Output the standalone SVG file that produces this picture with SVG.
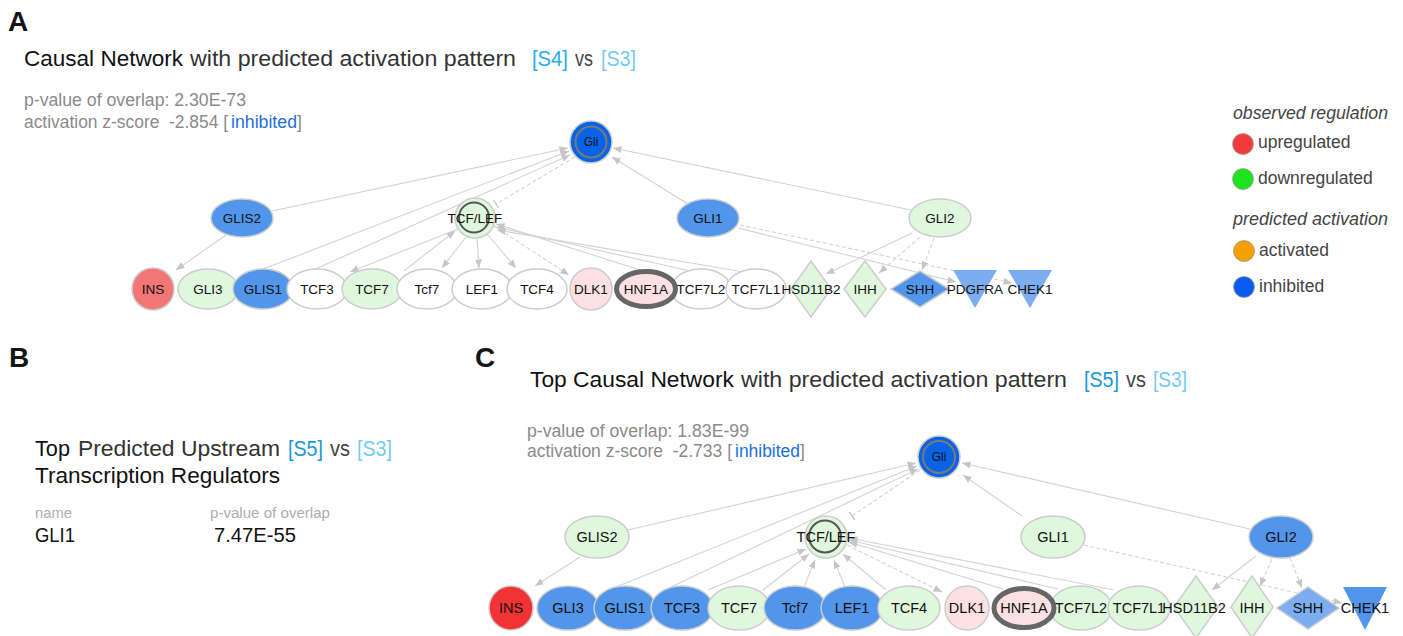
<svg xmlns="http://www.w3.org/2000/svg" width="1403" height="636" viewBox="0 0 1403 636">
  <defs>
    <style>
      text { font-family: "Liberation Sans", Arial, sans-serif; }
      .panel { font-size: 28px; font-weight: bold; fill: #151515; }
      .ttl { font-size: 22px; }
      .blk { fill: #111111; }
      .dim { fill: #333333; }
      .vs { fill: #444444; }
      .s4 { fill: #2aaee6; }
      .s5 { fill: #1a97d4; }
      .s3 { fill: #74cbf2; }
      .stat { font-size: 17.5px; fill: #8a8a8a; }
      .inh { fill: #1a6fe0; }
      .leg { font-size: 17.5px; fill: #444444; }
      .legh { font-size: 17.5px; fill: #444444; font-style: italic; }
      .hdr { font-size: 14px; fill: #adadad; }
      .val { font-size: 20px; fill: #111111; }
      .edge { fill: none; stroke: #d3d3d3; stroke-width: 1.1; }
      .dash { stroke-dasharray: 4 2.5; }
      .arr { marker-end: url(#arrow); }
      .bar { marker-end: url(#tbar); }
      .n { stroke: #cdcdcd; stroke-width: 1.5; }
      .green { fill: #dff8dd; }
      .white { fill: #ffffff; }
      .blue { fill: #5196eb; }
      .lblue { fill: #7cadf1; }
      .pink { fill: #fde0e2; }
      .salmon { fill: #f47575; }
      .red { fill: #f23333; }
      .dark { fill: #0863e6; }
      .sel { stroke: #666666; stroke-width: 5; }
      .ring { fill: none; stroke: #7a7a7a; stroke-width: 2; }
      .ring2 { fill: none; stroke: #555555; stroke-width: 2; }
      .lblA { font-size: 13.5px; fill: #111111; text-anchor: middle; }
      .lblC { font-size: 14.5px; fill: #111111; text-anchor: middle; }
      .gli { font-size: 12px; fill: #111111; text-anchor: middle; }
    </style>
    <marker id="arrow" markerUnits="userSpaceOnUse" markerWidth="9" markerHeight="8" refX="8.5" refY="4" orient="auto">
      <path d="M0,0.5 L8.5,4 L0,7.5 z" fill="#c6c6c6"/>
    </marker>
    <marker id="tbar" markerUnits="userSpaceOnUse" markerWidth="3" markerHeight="10" refX="1.5" refY="5" orient="auto">
      <path d="M1.5,0 L1.5,10" stroke="#c0c0c0" stroke-width="1.2"/>
    </marker>
  </defs>
  <rect width="1403" height="636" fill="#ffffff"/>

  <!-- ============ Panel A ============ -->
  <g id="panel-a-header">
    <text class="panel" x="8" y="31">A</text>
    <text class="ttl" y="66">
      <tspan class="blk" x="24" textLength="159" lengthAdjust="spacingAndGlyphs">Causal Network</tspan>
      <tspan class="dim" x="190" textLength="326" lengthAdjust="spacingAndGlyphs">with predicted activation pattern</tspan>
      <tspan class="s4" x="532" textLength="36" lengthAdjust="spacingAndGlyphs">[S4]</tspan>
      <tspan class="vs" x="575" textLength="18" lengthAdjust="spacingAndGlyphs">vs</tspan>
      <tspan class="s3" x="601" textLength="35" lengthAdjust="spacingAndGlyphs">[S3]</tspan>
    </text>
    <text class="stat" x="24" y="106" textLength="222" lengthAdjust="spacingAndGlyphs">p-value of overlap: 2.30E-73</text>
    <text class="stat" y="128">
      <tspan x="24" textLength="204" lengthAdjust="spacingAndGlyphs">activation z-score &#160;-2.854 [</tspan>
      <tspan class="inh" x="231" textLength="66" lengthAdjust="spacingAndGlyphs">inhibited</tspan>
      <tspan x="297">]</tspan>
    </text>
  </g>

  <g id="legend">
    <text class="legh" x="1233" y="119" textLength="155" lengthAdjust="spacingAndGlyphs">observed regulation</text>
    <circle cx="1243" cy="144" r="10.5" fill="#f33b3b" stroke="#9a9a9a" stroke-width="0.8"/>
    <text class="leg" x="1258" y="148">upregulated</text>
    <circle cx="1243" cy="179" r="10.5" fill="#1fe31f" stroke="#9a9a9a" stroke-width="0.8"/>
    <text class="leg" x="1258" y="184">downregulated</text>
    <text class="legh" x="1233" y="225" textLength="155" lengthAdjust="spacingAndGlyphs">predicted activation</text>
    <circle cx="1244" cy="251" r="10.5" fill="#f5a000" stroke="#9a9a9a" stroke-width="0.8"/>
    <text class="leg" x="1259" y="256">activated</text>
    <circle cx="1244" cy="287" r="10.5" fill="#0a5cf0" stroke="#9a9a9a" stroke-width="0.8"/>
    <text class="leg" x="1259" y="292">inhibited</text>
  </g>

  <g id="edges-a">
    <path class="edge arr" d="M272,211 L568,148"/>
    <path class="edge arr" d="M258,271 L569,151"/>
    <path class="edge arr" d="M311,271 L570,155"/>
    <path class="edge arr" d="M688,204 L612,157"/>
    <path class="edge arr" d="M911,210 L613,148"/>
    <path class="edge dash bar" d="M575,157 L496,204"/>
    <path class="edge arr" d="M226,235 L176,270"/>
    <path class="edge arr" d="M458,229 L350,272"/>
    <path class="edge arr" d="M404,271 L455,231"/>
    <path class="edge arr" d="M466,237 L442,268"/>
    <path class="edge arr" d="M477,238 L479,268"/>
    <path class="edge arr" d="M487,234 L516,268"/>
    <path class="edge dash arr" d="M494,226 L569,275"/>
    <path class="edge arr" d="M640,270 L496,224"/>
    <path class="edge arr" d="M690,271 L496,227"/>
    <path class="edge arr" d="M744,272 L497,230"/>
    <path class="edge arr" d="M912,233 L826,274"/>
    <path class="edge dash arr" d="M920,237 L879,273"/>
    <path class="edge dash arr" d="M934,238 L922,270"/>
    <path class="edge arr" d="M738,228 L956,282"/>
    <path class="edge dash arr" d="M740,225 L1012,283"/>
  </g>

  <g id="a-Gli"><circle class="n dark" cx="591" cy="142" r="21"/><circle class="ring" cx="591" cy="142" r="15.5"/><text class="gli" x="591" y="146">Gli</text></g>
  <g id="a-GLIS2"><ellipse class="n blue" cx="242" cy="218" rx="31" ry="19"/><text class="lblA" x="242" y="223">GLIS2</text></g>
  <g id="a-TCFLEF"><circle class="n green" cx="475" cy="218" r="20"/><circle class="ring2" cx="474" cy="217.5" r="15"/><text class="lblA" x="475" y="223">TCF/LEF</text></g>
  <g id="a-GLI1"><ellipse class="n blue" cx="708" cy="218" rx="31" ry="19"/><text class="lblA" x="708" y="223">GLI1</text></g>
  <g id="a-GLI2"><ellipse class="n green" cx="940" cy="218" rx="31" ry="19"/><text class="lblA" x="940" y="223">GLI2</text></g>

  <g id="a-INS"><circle class="n salmon" cx="153" cy="289" r="21"/><text class="lblA" x="153" y="294">INS</text></g>
  <g id="a-GLI3"><ellipse class="n green" cx="208" cy="289" rx="30" ry="20"/><text class="lblA" x="208" y="294">GLI3</text></g>
  <g id="a-GLIS1"><ellipse class="n blue" cx="263" cy="289" rx="30" ry="20"/><text class="lblA" x="263" y="294">GLIS1</text></g>
  <g id="a-TCF3"><ellipse class="n white" cx="317" cy="289" rx="30" ry="20"/><text class="lblA" x="317" y="294">TCF3</text></g>
  <g id="a-TCF7"><ellipse class="n green" cx="372" cy="289" rx="30" ry="20"/><text class="lblA" x="372" y="294">TCF7</text></g>
  <g id="a-Tcf7"><ellipse class="n white" cx="427" cy="289" rx="30" ry="20"/><text class="lblA" x="427" y="294">Tcf7</text></g>
  <g id="a-LEF1"><ellipse class="n white" cx="482" cy="289" rx="30" ry="20"/><text class="lblA" x="482" y="294">LEF1</text></g>
  <g id="a-TCF4"><ellipse class="n white" cx="537" cy="289" rx="30" ry="20"/><text class="lblA" x="537" y="294">TCF4</text></g>
  <g id="a-DLK1"><circle class="n pink" cx="591" cy="289" r="21"/><text class="lblA" x="591" y="294">DLK1</text></g>
  <g id="a-TCF7L2"><ellipse class="n white" cx="701" cy="289" rx="30" ry="20"/><text class="lblA" x="701" y="294">TCF7L2</text></g>
  <g id="a-TCF7L1"><ellipse class="n white" cx="756" cy="289" rx="30" ry="20"/><text class="lblA" x="756" y="294">TCF7L1</text></g>
  <g id="a-HNF1A"><ellipse class="pink sel" cx="646" cy="289" rx="29.5" ry="17.5"/><text class="lblA" x="646" y="294">HNF1A</text></g>
  <g id="a-HSD11B2"><path class="n green" d="M811,261 L831,289 L811,317 L791,289 z"/><text class="lblA" x="811" y="294">HSD11B2</text></g>
  <g id="a-IHH"><path class="n green" d="M865,261 L886,289 L865,317 L844,289 z"/><text class="lblA" x="865" y="294">IHH</text></g>
  <g id="a-SHH"><path class="n blue" d="M920,271 L949,289 L920,307 L891,289 z"/><text class="lblA" x="920" y="294">SHH</text></g>
  <g id="a-PDGFRA"><path class="lblue" d="M953,270 L997,270 L975,308 z"/><text class="lblA" x="975" y="294">PDGFRA</text></g>
  <g id="a-CHEK1"><path class="lblue" d="M1008,270 L1052,270 L1030,308 z"/><text class="lblA" x="1030" y="294">CHEK1</text></g>

  <!-- ============ Panel B ============ -->
  <g id="panel-b">
    <text class="panel" x="9" y="367">B</text>
    <text class="ttl" y="456">
      <tspan class="blk" x="35" textLength="35" lengthAdjust="spacingAndGlyphs">Top</tspan>
      <tspan class="dim" x="78" textLength="202" lengthAdjust="spacingAndGlyphs">Predicted Upstream</tspan>
      <tspan class="s5" x="288" textLength="35" lengthAdjust="spacingAndGlyphs">[S5]</tspan>
      <tspan class="vs" x="330" textLength="20" lengthAdjust="spacingAndGlyphs">vs</tspan>
      <tspan class="s3" x="357" textLength="35" lengthAdjust="spacingAndGlyphs">[S3]</tspan>
    </text>
    <text class="ttl blk" x="35" y="483" textLength="245" lengthAdjust="spacingAndGlyphs">Transcription Regulators</text>
    <text class="hdr" x="35" y="518" textLength="37" lengthAdjust="spacingAndGlyphs">name</text>
    <text class="hdr" x="210" y="518" textLength="120" lengthAdjust="spacingAndGlyphs">p-value of overlap</text>
    <text class="val" x="35" y="542" textLength="40" lengthAdjust="spacingAndGlyphs">GLI1</text>
    <text class="val" x="214" y="542" textLength="82" lengthAdjust="spacingAndGlyphs">7.47E-55</text>
  </g>

  <!-- ============ Panel C ============ -->
  <g id="panel-c-header">
    <text class="panel" x="475" y="367">C</text>
    <text class="ttl" y="387">
      <tspan class="blk" x="530" textLength="204" lengthAdjust="spacingAndGlyphs">Top Causal Network</tspan>
      <tspan class="dim" x="741" textLength="326" lengthAdjust="spacingAndGlyphs">with predicted activation pattern</tspan>
      <tspan class="s5" x="1084" textLength="35" lengthAdjust="spacingAndGlyphs">[S5]</tspan>
      <tspan class="vs" x="1126" textLength="20" lengthAdjust="spacingAndGlyphs">vs</tspan>
      <tspan class="s3" x="1153" textLength="34" lengthAdjust="spacingAndGlyphs">[S3]</tspan>
    </text>
    <text class="stat" x="527" y="437" textLength="222" lengthAdjust="spacingAndGlyphs">p-value of overlap: 1.83E-99</text>
    <text class="stat" y="457">
      <tspan x="527" textLength="205" lengthAdjust="spacingAndGlyphs">activation z-score &#160;-2.733 [</tspan>
      <tspan class="inh" x="735" textLength="65" lengthAdjust="spacingAndGlyphs">inhibited</tspan>
      <tspan x="800">]</tspan>
    </text>
  </g>

  <g id="edges-c">
    <path class="edge arr" d="M628,530 L916,463"/>
    <path class="edge arr" d="M611,589 L917,466"/>
    <path class="edge arr" d="M667,589 L918,469"/>
    <path class="edge arr" d="M1022,516 L963,475"/>
    <path class="edge arr" d="M1250,529 L962,463"/>
    <path class="edge dash bar" d="M920,470 L852,516"/>
    <path class="edge arr" d="M580,557 L535,586"/>
    <path class="edge arr" d="M708,590 L806,549"/>
    <path class="edge arr" d="M763,590 L809,554"/>
    <path class="edge arr" d="M804,587 L815,560"/>
    <path class="edge arr" d="M845,587 L834,560"/>
    <path class="edge arr" d="M886,590 L843,554"/>
    <path class="edge dash arr" d="M847,545 L942,592"/>
    <path class="edge arr" d="M1003,589 L849,542"/>
    <path class="edge arr" d="M1058,589 L849,540"/>
    <path class="edge arr" d="M1114,590 L849,538"/>
    <path class="edge arr" d="M1256,556 L1212,590"/>
    <path class="edge dash arr" d="M1272,559 L1260,586"/>
    <path class="edge dash arr" d="M1290,558 L1302,588"/>
    <path class="edge dash arr" d="M1084,545 L1342,603"/>
  </g>

  <g id="c-Gli"><circle class="n dark" cx="939" cy="457" r="21"/><circle class="ring" cx="939" cy="457" r="16"/><text class="gli" x="939" y="461">Gli</text></g>
  <g id="c-GLIS2"><ellipse class="n green" cx="597" cy="537" rx="32" ry="21"/><text class="lblC" x="597" y="542">GLIS2</text></g>
  <g id="c-TCFLEF"><circle class="n green" cx="826" cy="537" r="21"/><circle class="ring2" cx="825" cy="536.5" r="16"/><text class="lblC" x="826" y="542">TCF/LEF</text></g>
  <g id="c-GLI1"><ellipse class="n green" cx="1053" cy="537" rx="32" ry="21"/><text class="lblC" x="1053" y="542">GLI1</text></g>
  <g id="c-GLI2"><ellipse class="n blue" cx="1281" cy="537" rx="32" ry="21"/><text class="lblC" x="1281" y="542">GLI2</text></g>

  <g id="c-INS"><circle class="n red" cx="511" cy="608" r="22"/><text class="lblC" x="511" y="613">INS</text></g>
  <g id="c-GLI3"><ellipse class="n blue" cx="568" cy="608" rx="31" ry="22"/><text class="lblC" x="568" y="613">GLI3</text></g>
  <g id="c-GLIS1"><ellipse class="n blue" cx="625" cy="608" rx="31" ry="22"/><text class="lblC" x="625" y="613">GLIS1</text></g>
  <g id="c-TCF3"><ellipse class="n blue" cx="682" cy="608" rx="31" ry="22"/><text class="lblC" x="682" y="613">TCF3</text></g>
  <g id="c-TCF7"><ellipse class="n green" cx="739" cy="608" rx="31" ry="22"/><text class="lblC" x="739" y="613">TCF7</text></g>
  <g id="c-Tcf7"><ellipse class="n blue" cx="795" cy="608" rx="31" ry="22"/><text class="lblC" x="795" y="613">Tcf7</text></g>
  <g id="c-LEF1"><ellipse class="n blue" cx="852" cy="608" rx="31" ry="22"/><text class="lblC" x="852" y="613">LEF1</text></g>
  <g id="c-TCF4"><ellipse class="n green" cx="909" cy="608" rx="31" ry="22"/><text class="lblC" x="909" y="613">TCF4</text></g>
  <g id="c-DLK1"><circle class="n pink" cx="967" cy="608" r="22"/><text class="lblC" x="967" y="613">DLK1</text></g>
  <g id="c-TCF7L2"><ellipse class="n green" cx="1081" cy="608" rx="31" ry="22"/><text class="lblC" x="1081" y="613">TCF7L2</text></g>
  <g id="c-TCF7L1"><ellipse class="n green" cx="1139" cy="608" rx="31" ry="22"/><text class="lblC" x="1139" y="613">TCF7L1</text></g>
  <g id="c-HNF1A"><ellipse class="pink sel" cx="1024" cy="608" rx="30" ry="19.5"/><text class="lblC" x="1024" y="613">HNF1A</text></g>
  <g id="c-HSD11B2"><path class="n green" d="M1196,576 L1218,607 L1196,638 L1174,607 z"/><text class="lblC" x="1194" y="613">HSD11B2</text></g>
  <g id="c-IHH"><path class="n green" d="M1252,576 L1273,607 L1252,638 L1231,607 z"/><text class="lblC" x="1252" y="613">IHH</text></g>
  <g id="c-SHH"><path class="n lblue" d="M1308,587 L1339,608 L1308,629 L1277,608 z"/><text class="lblC" x="1308" y="613">SHH</text></g>
  <g id="c-CHEK1"><path class="blue" d="M1343,587 L1387,587 L1365,630 z"/><text class="lblC" x="1365" y="613">CHEK1</text></g>
</svg>
